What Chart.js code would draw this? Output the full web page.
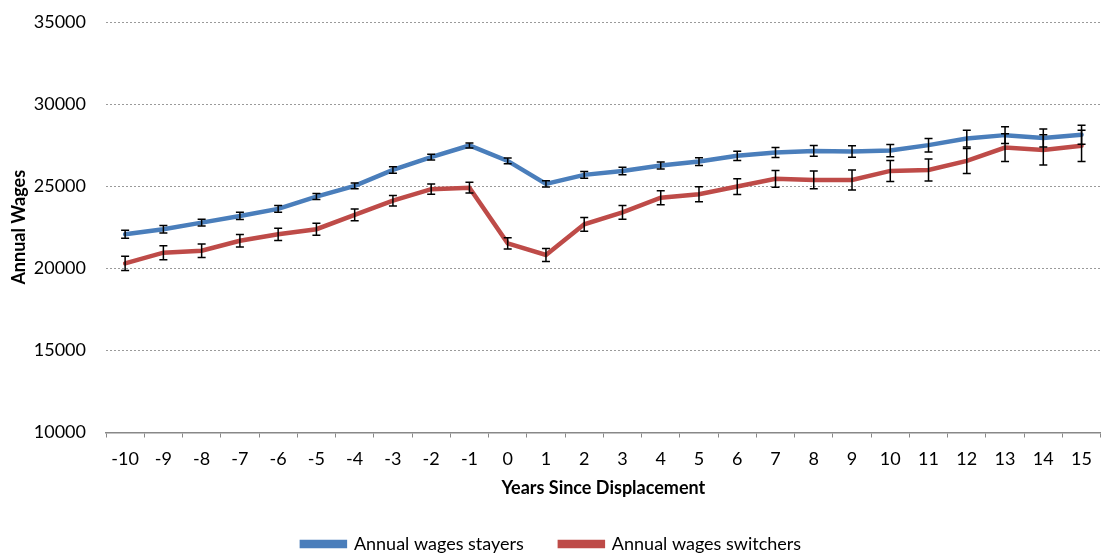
<!DOCTYPE html>
<html>
<head>
<meta charset="utf-8">
<script src="https://cdn.jsdelivr.net/npm/chart.js@4.4.1/dist/chart.umd.min.js"></script>
<style>
  html, body { margin: 0; padding: 0; background: #fff; }
  #wrap { width: 1103px; height: 555px; position: relative; }
</style>
</head>
<body>
<div id="wrap"><canvas id="myChart"></canvas></div>
<script>
const years = ["-10", "-9", "-8", "-7", "-6", "-5", "-4", "-3", "-2", "-1", "0", "1", "2",
  "3", "4", "5", "6", "7", "8", "9", "10", "11", "12", "13", "14", "15"];

const stayers = [22070, 22380, 22780, 23190, 23620, 24370, 25020, 25990, 26770, 27480, 26540, 25140, 25690,
  25930, 26260, 26500, 26850, 27050, 27150, 27110, 27170, 27500, 27900, 28110, 27930, 28130];
const stayersErr = [240, 230, 200, 220, 200, 180, 180, 200, 180, 150, 170, 190, 210,
  230, 220, 240, 280, 300, 330, 350, 370, 410, 510, 510, 550, 580];

const switchers = [20300, 20950, 21070, 21680, 22070, 22380, 23250, 24120, 24820, 24910, 21520, 20810, 22680,
  23410, 24300, 24510, 24980, 25450, 25380, 25380, 25930, 25990, 26540, 27350, 27210, 27460];
const switchersErr = [430, 430, 410, 380, 370, 360, 360, 320, 310, 330, 340, 400, 420,
  420, 430, 450, 480, 510, 540, 610, 640, 670, 760, 850, 920, 950];

const yTicks = [10000, 15000, 20000, 25000, 30000, 35000];

Chart.defaults.font.family = "Lato, 'Open Sans', sans-serif";
Chart.defaults.font.size = 18;
Chart.defaults.color = "#000";

// black error bars drawn over the lines
const errorBars = {
  id: "errorBars",
  afterDatasetsDraw(chart) {
    const { ctx, scales: { x, y } } = chart;
    const errs = [stayersErr, switchersErr];
    ctx.save();
    ctx.strokeStyle = "#000";
    ctx.lineWidth = 1.5;
    chart.data.datasets.forEach((ds, d) => {
      ds.data.forEach((v, i) => {
        const px = x.getPixelForValue(i);
        const top = y.getPixelForValue(v + errs[d][i]);
        const bot = y.getPixelForValue(v - errs[d][i]);
        ctx.beginPath();
        ctx.moveTo(px, top); ctx.lineTo(px, bot);
        ctx.moveTo(px - 4, top); ctx.lineTo(px + 4, top);
        ctx.moveTo(px - 4, bot); ctx.lineTo(px + 4, bot);
        ctx.stroke();
      });
    });
    ctx.restore();
  }
};

const chartData = {
  labels: years,
  datasets: [
    {
      label: "Annual wages stayers",
      data: stayers,
      borderColor: "#4a7ebb",
      backgroundColor: "#4a7ebb",
      borderWidth: 4.5,
      borderCapStyle: "round",
      pointRadius: 0,
      tension: 0,
    },
    {
      label: "Annual wages switchers",
      data: switchers,
      borderColor: "#be4b48",
      backgroundColor: "#be4b48",
      borderWidth: 4.5,
      borderCapStyle: "round",
      pointRadius: 0,
      tension: 0,
    },
  ],
};

const config = {
  type: "line",
  data: chartData,
  plugins: [errorBars],
  options: {
    responsive: true,
    maintainAspectRatio: false,
    animation: false,
    layout: { padding: { top: 22, right: 0, bottom: -8, left: 0 } },
    plugins: {
      tooltip: { enabled: false },
      legend: {
        position: "bottom",
        labels: {
          boxWidth: 43,
          boxHeight: 4,
          padding: 36,
          font: { size: 18 },
        },
      },
    },
    scales: {
      x: {
        offset: true,
        grid: {
          offset: true,
          drawOnChartArea: false,
          drawTicks: true,
          tickLength: 5,
          color: "#888",
        },
        border: { display: true, color: "#888", width: 1.5 },
        ticks: { autoSkip: false, maxRotation: 0, padding: 11 },
        title: {
          display: true,
          text: "Years Since Displacement",
          font: { weight: "bold", size: 18 },
          padding: { top: 0, bottom: 0 },
        },
        afterFit(scale) { scale.height = 66.5; },
      },
      y: {
        min: 10000,
        max: 35000,
        afterBuildTicks(scale) { scale.ticks = yTicks.map(v => ({ value: v })); },
        grid: { color: "#9a9a9a", drawTicks: false, lineWidth: 1 },
        border: { display: false, dash: [2, 2] },
        ticks: { padding: 20, callback: v => String(v) },
        title: {
          display: true,
          text: "Annual Wages",
          font: { weight: "bold", size: 18 },
          padding: { top: 8, bottom: 0 },
        },
        afterFit(scale) {
          scale.width = 106;
          scale.paddingTop = 0;
          scale.paddingBottom = 0;
        },
      },
    },
  },
};

const myChart = new Chart(document.getElementById("myChart"), config);
</script>
</body>
</html>
